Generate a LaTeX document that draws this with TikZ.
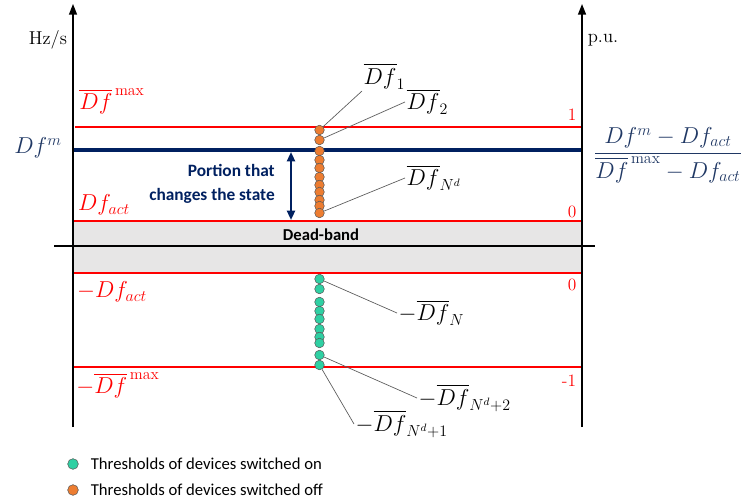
\documentclass[tikz,border=0pt]{standalone}
\usepackage{fontspec}
\setsansfont{Carlito}
\usepackage{amsmath}
\usetikzlibrary{positioning,arrows.meta}
\definecolor{navy}{HTML}{002060}
\definecolor{navytxt}{HTML}{203864}
\definecolor{redl}{HTML}{FF0000}
\definecolor{band}{HTML}{E7E6E6}
\definecolor{offc}{HTML}{ED7D31}
\definecolor{onc}{HTML}{2FD0A3}
\definecolor{leadc}{HTML}{595959}
\tikzset{
  ax/.style={draw=black,line width=1.1pt,-{Triangle[length=8pt,width=6pt]}},
  redln/.style={draw=redl,line width=1.5pt},
  navyln/.style={draw=navy,line width=2.3pt},
  offpt/.style={circle,draw=black!65,fill=offc,line width=0.4pt,minimum size=7.2pt,inner sep=0pt},
  onpt/.style={circle,draw=black!65,fill=onc,line width=0.4pt,minimum size=7.2pt,inner sep=0pt},
  lead/.style={draw=leadc,line width=0.5pt},
  mlbl/.style={font=\fontsize{17}{20}\selectfont,inner sep=1pt},
  redlbl/.style={mlbl,text=redl},
  navylbl/.style={mlbl,text=navytxt},
  unitlbl/.style={font=\fontsize{14}{16}\selectfont},
  numlbl/.style={font=\fontsize{13}{15}\selectfont,text=redl},
  legtxt/.style={font=\sffamily\fontsize{12.5}{14}\selectfont,inner sep=0pt},
}
\begin{document}
\begin{tikzpicture}[x=0.75pt,y=-0.75pt]
  \useasboundingbox (0,0) rectangle (749,499);
  % dead-band
  \fill[band] (73,222) rectangle (582,272);
  \node[font=\sffamily\bfseries\fontsize{12.5}{14}\selectfont] (db) at (321,235) {Dead-band};
  % levels
  \draw[redln] (75,127) -- (582,127);
  \draw[navyln] (73,150) -- (582,150);
  \draw[redln] (73,221) -- (582,221);
  \draw[redln] (73,273) -- (582,273);
  \draw[redln] (73,367) -- (582,367);
  % axes
  \draw[line width=1.1pt] (54,246) -- (595,246);
  \draw[ax] (73,427) -- (73,4);
  \draw[ax] (582,427) -- (582,4);
  \node[unitlbl] (hz) at (48,40) {Hz/s};
  \node[unitlbl] (pu) at (603,40) {p.u.};
  % left labels
  \node[redlbl] (dfmax) at (112,101) {$\overline{Df}^{\,\mathrm{max}}$};
  \node[navylbl] (dfm) at (38,148) {$Df^m$};
  \node[redlbl] (dfact) at (104,205) {$Df_{act}$};
  \node[redlbl] (mdfact) at (112,292) {$-Df_{act}$};
  \node[redlbl] (mdfmax) at (118,385) {$-\overline{Df}^{\,\mathrm{max}}$};
  % right scale
  \node[numlbl] (one) at (572,115) {1};
  \node[numlbl] (zup) at (572,212) {0};
  \node[numlbl] (zdn) at (572,285) {0};
  \node[numlbl] (mone) at (569,381) {-1};
  \node[navylbl] (frac) at (668,155)
    {$\dfrac{Df^m-Df_{act}}{\overline{Df}^{\,\mathrm{max}}-Df_{act}}$};
  % portion
  \coordinate (pa) at (291,152);
  \coordinate (pb) at (291,220);
  \draw[draw=navy,line width=1.6pt,{Triangle[length=7pt,width=6pt]}-{Triangle[length=7pt,width=6pt]}] (pa) -- (pb);
  \node[font=\sffamily\bfseries\fontsize{13}{18}\selectfont,text=navy,align=right] (port) at (212,184)
    {Portion that\\changes the state};
  % thresholds
  \foreach \y [count=\i] in {130,140,151,160,168,177,185,192,200,206,213}
    \node[offpt] (o\i) at (319.5,\y) {};
  \foreach \y [count=\i] in {279,289,302,311,319,329,337,343,355,365}
    \node[onpt] (g\i) at (319.5,\y) {};
  % threshold labels
  \node[mlbl,anchor=south west] (d1) at (362,91) {$\overline{Df}_1$};
  \node[mlbl,anchor=west] (d2) at (405,102) {$\overline{Df}_2$};
  \node[mlbl,anchor=west] (dnd) at (405,178) {$\overline{Df}_{N^d}$};
  \node[mlbl,anchor=west] (dn) at (397,313) {$-\overline{Df}_N$};
  \node[mlbl,anchor=west] (dnd2) at (417,398) {$-\overline{Df}_{N^d+2}$};
  \node[mlbl,anchor=west] (dnd1) at (354,424) {$-\overline{Df}_{N^d+1}$};
  \draw[lead] (o1) -- (d1.south west);
  \draw[lead] (o2) -- (d2.west);
  \draw[lead] (o11) -- (dnd.west);
  \draw[lead] (g1) -- (dn.west);
  \draw[lead] (g9) -- (dnd2.west);
  \draw[lead] (g10) -- (dnd1.west);
  % legend
  \node[onpt,minimum size=8pt] (lgon) at (73,464) {};
  \node[offpt,minimum size=8pt] (lgoff) at (73,490) {};
  \node[legtxt,right=9pt of lgon] (ton) {Thresholds of devices switched on};
  \node[legtxt,right=9pt of lgoff] (toff) {Thresholds of devices switched off};
\end{tikzpicture}
\end{document}
